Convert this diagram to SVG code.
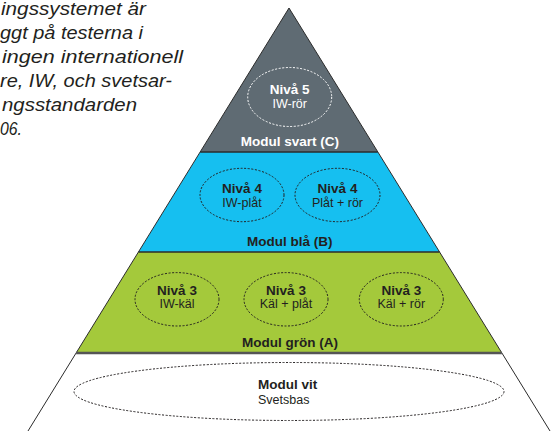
<svg xmlns="http://www.w3.org/2000/svg" width="557" height="431" viewBox="0 0 557 431">
<style>
.intro{font-family:"Liberation Sans",Arial,sans-serif;font-style:italic;font-size:18px;fill:#231f20}
.b{font-family:"Liberation Sans",Arial,sans-serif;font-weight:bold;font-size:13.5px;fill:#231f20}
.r{font-family:"Liberation Sans",Arial,sans-serif;font-size:12.5px;fill:#231f20}
.w{fill:#ffffff}
.dot{fill:none;stroke:#231f20;stroke-width:1;stroke-dasharray:2 1.6}
.dotw{fill:none;stroke:#ffffff;stroke-width:1;stroke-dasharray:2 1.6}
.edge{stroke:#2b2b2b;stroke-width:1;fill:none}
</style>
<rect width="557" height="431" fill="#ffffff"/>
<g id="intro-text">
<text class="intro" x="1" y="15" textLength="145" lengthAdjust="spacingAndGlyphs">ingssystemet är</text>
<text class="intro" x="0" y="39" textLength="143" lengthAdjust="spacingAndGlyphs">ggt på testerna i</text>
<text class="intro" x="2" y="63" textLength="181" lengthAdjust="spacingAndGlyphs">ingen internationell</text>
<text class="intro" x="0" y="87" textLength="172" lengthAdjust="spacingAndGlyphs">re, IW, och svetsar-</text>
<text class="intro" x="2" y="111" textLength="135" lengthAdjust="spacingAndGlyphs">ngsstandarden</text>
<text class="intro" x="0" y="135" textLength="22" lengthAdjust="spacingAndGlyphs">06.</text>
</g>
<g id="bands">
<polygon points="289,8 377.8,152 200.2,152" fill="#5f6b73"/>
<polygon points="200.2,152 377.8,152 439.5,252 138.5,252" fill="#16bff0"/>
<polygon points="138.5,252 439.5,252 501.9,353 76.1,353" fill="#a4c93b"/>
<polyline class="edge" points="28,431 76.1,353 289,8 501.9,353 550,431"/>
<line x1="200.2" y1="152" x2="377.8" y2="152" stroke="#2b2b2b" stroke-width="1.5"/>
<line x1="138.5" y1="252" x2="439.5" y2="252" stroke="#2b2b2b" stroke-width="1.5"/>
<line x1="76.1" y1="353" x2="501.9" y2="353" stroke="#555555" stroke-width="2.5"/>
</g>
<g id="niva5">
<ellipse class="dotw" cx="289.7" cy="97" rx="42" ry="29.5"/>
<text class="b w" x="289.7" y="94" text-anchor="middle">Nivå 5</text>
<text class="r w" x="289.7" y="108" text-anchor="middle">IW-rör</text>
</g>
<g id="modul-svart">
<text class="b w" x="290" y="145.5" text-anchor="middle">Modul svart (C)</text>
</g>
<g id="niva4-iw-plat">
<ellipse class="dot" cx="242" cy="195" rx="42" ry="26.7"/>
<text class="b" x="242" y="193" text-anchor="middle">Nivå 4</text>
<text class="r" x="242" y="207" text-anchor="middle">IW-plåt</text>
</g>
<g id="niva4-plat-ror">
<ellipse class="dot" cx="337.5" cy="195" rx="42.5" ry="26.7"/>
<text class="b" x="337.5" y="193" text-anchor="middle">Nivå 4</text>
<text class="r" x="337.5" y="207" text-anchor="middle">Plåt + rör</text>
</g>
<g id="modul-bla">
<text class="b" x="289.7" y="246" text-anchor="middle">Modul blå (B)</text>
</g>
<g id="niva3-iw-kal">
<ellipse class="dot" cx="177" cy="299.3" rx="42" ry="26.7"/>
<text class="b" x="177" y="295" text-anchor="middle">Nivå 3</text>
<text class="r" x="177" y="308" text-anchor="middle">IW-käl</text>
</g>
<g id="niva3-kal-plat">
<ellipse class="dot" cx="286" cy="299.3" rx="42" ry="26.7"/>
<text class="b" x="286" y="295" text-anchor="middle">Nivå 3</text>
<text class="r" x="286" y="308" text-anchor="middle">Käl + plåt</text>
</g>
<g id="niva3-kal-ror">
<ellipse class="dot" cx="401.3" cy="299.3" rx="42" ry="26.7"/>
<text class="b" x="401.3" y="295" text-anchor="middle">Nivå 3</text>
<text class="r" x="401.3" y="308" text-anchor="middle">Käl + rör</text>
</g>
<g id="modul-gron">
<text class="b" x="290" y="346.5" text-anchor="middle">Modul grön (A)</text>
</g>
<g id="modul-vit">
<ellipse class="dot" cx="289" cy="391.5" rx="215" ry="29"/>
<text class="b" x="258" y="389">Modul vit</text>
<text class="r" x="258" y="403.5">Svetsbas</text>
</g>
<g id="connectors"/>
</svg>
